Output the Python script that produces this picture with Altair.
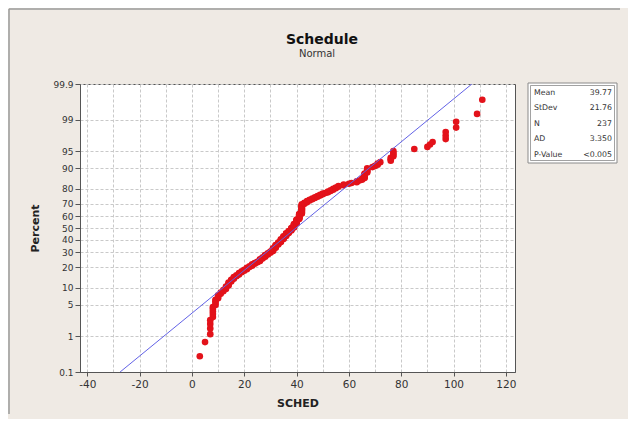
import altair as alt
import pandas as pd
from statistics import NormalDist

# ---- data ----
sched_values = [3, 5, 7, 8, 9, 10, 11, 12, 13, 14, 15, 16, 17, 18, 19, 20, 21, 22, 23, 24, 25,
                26, 27, 28, 29, 30, 31, 32, 33, 34, 35, 36, 37, 38, 39, 40, 41, 42, 43, 44, 45,
                46, 47, 48, 49, 50, 51, 52, 53, 54, 55, 56, 58, 60, 61, 63, 64, 65, 66, 67,
                69, 70, 71, 72, 76, 77, 85, 90, 91, 92, 97, 101, 109, 111]
sched_counts = [1, 1, 4, 5, 4, 3, 2, 2, 3, 4, 3, 3, 2, 3, 2, 2, 3, 2, 3, 2, 2,
                4, 3, 4, 3, 3, 6, 6, 5, 6, 6, 6, 5, 6, 8, 9, 11, 18, 3, 3, 2,
                2, 2, 2, 2, 2, 1, 2, 2, 2, 2, 2, 2, 1, 1, 2, 1, 2, 6, 5,
                1, 1, 2, 1, 3, 4, 1, 1, 1, 1, 3, 2, 1, 1]

stat_labels = ["Mean", "StDev", "N", "AD", "P-Value"]
stat_texts = ["39.77", "21.76", "237", "3.350", "<0.005"]
stat_mean = 39.77
stat_sd = 21.76

percent_ticks = [0.1, 1, 5, 10, 20, 30, 40, 50, 60, 70, 80, 90, 95, 99, 99.9]
percent_labels = ["0.1", "1", "5", "10", "20", "30", "40", "50", "60", "70", "80", "90", "95", "99", "99.9"]
x_ticks = list(range(-40, 121, 10))

# ---- build tables ----
nd = NormalDist()
xs = [v for v, c in zip(sched_values, sched_counts) for _ in range(c)]
n = len(xs)
points = pd.DataFrame({
    "SCHED": xs,
    "z": [nd.inv_cdf((i + 1 - 0.3) / (n + 0.4)) for i in range(n)],
})
z_ticks = [round(nd.inv_cdf(p / 100), 6) for p in percent_ticks]
z_lo, z_hi = z_ticks[0], z_ticks[-1]
fit = pd.DataFrame({"z": [z_lo, z_hi], "SCHED": [stat_mean + stat_sd * z_lo, stat_mean + stat_sd * z_hi]})

label_expr = " : ".join(
    f"abs(datum.value - ({z:.6f})) < 0.001 ? '{lab}'" for z, lab in zip(z_ticks, percent_labels)
) + " : ''"

FONT = "DejaVu Sans"
GRID = "#C9C9C9"
FRAME = "#555555"

xscale = alt.Scale(domain=[-42.8, 123.5], nice=False, zero=False)
yscale = alt.Scale(domain=[z_lo, z_hi], nice=False, zero=False)

xaxis = alt.Axis(
    values=x_ticks,
    labelExpr="datum.value % 20 == 0 ? '' + datum.value : ''",
    tickOpacity={"condition": {"test": "datum.value % 20 == 0", "value": 1}, "value": 0},
    tickSize=4, tickColor=FRAME, domainColor=FRAME,
    labelFont=FONT, labelFontSize=10.5, labelColor="#333333", labelPadding=3,
    labelFlush=False, labelOverlap=False,
    grid=True, gridColor=GRID, gridDash=[3, 2], gridWidth=1,
    title="SCHED", titleFont=FONT, titleFontSize=11, titleFontWeight="bold",
    titleColor="#222222", titlePadding=8,
)
yaxis = alt.Axis(
    values=z_ticks, labelExpr=label_expr,
    tickSize=5, tickColor=FRAME, domainColor=FRAME,
    labelFont=FONT, labelFontSize=9, labelColor="#333333", labelPadding=2,
    labelFlush=False, labelOverlap=False,
    grid=True, gridColor=GRID, gridDash=[3, 2], gridWidth=1,
    title="Percent", titleFont=FONT, titleFontSize=11, titleFontWeight="bold",
    titleColor="#222222", titlePadding=12,
)

pts = alt.Chart(points).mark_circle(size=44, color="#E3121A", opacity=1).encode(
    x=alt.X("SCHED:Q", scale=xscale, axis=xaxis),
    y=alt.Y("z:Q", scale=yscale, axis=yaxis),
)

line = alt.Chart(fit).mark_line(color="#6262E6", strokeWidth=1, clip=True).encode(
    x=alt.X("SCHED:Q", scale=xscale, axis=xaxis),
    y=alt.Y("z:Q", scale=yscale, axis=None),
)

one = pd.DataFrame({"a": [0]})
box_outer = alt.Chart(one).mark_rect(fill="white", stroke="#8A8A8A", strokeWidth=1).encode(
    x=alt.value(448), x2=alt.value(537), y=alt.value(-1), y2=alt.value(79)
)
box_inner = alt.Chart(one).mark_rect(fill="white", stroke="#8A8A8A", strokeWidth=0.8).encode(
    x=alt.value(450.5), x2=alt.value(534.5), y=alt.value(1.5), y2=alt.value(76.5)
)

stat_layers = []
for i, (lab, txt) in enumerate(zip(stat_labels, stat_texts)):
    row = pd.DataFrame({"label": [lab], "text": [txt]})
    ypos = 8.5 + i * 15.5
    stat_layers.append(alt.Chart(row).mark_text(
        align="left", baseline="middle", font=FONT, fontSize=7.8, color="#333333"
    ).encode(x=alt.value(454), y=alt.value(ypos), text="label:N"))
    stat_layers.append(alt.Chart(row).mark_text(
        align="right", baseline="middle", font=FONT, fontSize=7.8, color="#333333"
    ).encode(x=alt.value(532), y=alt.value(ypos), text="text:N"))

title_df = pd.DataFrame({"t": ["Schedule"], "s": ["Normal"]})
title1 = alt.Chart(title_df).mark_text(
    align="center", baseline="alphabetic", font=FONT, fontSize=14, fontWeight="bold", color="#111111"
).encode(x=alt.value(242), y=alt.value(-40), text="t:N")
title2 = alt.Chart(title_df).mark_text(
    align="center", baseline="alphabetic", font=FONT, fontSize=10, color="#333333"
).encode(x=alt.value(237), y=alt.value(-27.5), text="s:N")

edge_top = alt.Chart(one).mark_rule(color="#9A9A9A", strokeWidth=1.5).encode(
    x=alt.value(-71), x2=alt.value(540), y=alt.value(-75)
)
edge_left = alt.Chart(one).mark_rule(color="#9A9A9A", strokeWidth=1.5).encode(
    x=alt.value(-71), y=alt.value(-75), y2=alt.value(330)
)

chart = alt.layer(
    pts, line, box_outer, box_inner, *stat_layers, title1, title2, edge_top, edge_left
).resolve_scale(y="independent").properties(
    width=435, height=288,
    autosize=alt.AutoSizeParams(type="none"),
    padding={"left": 72, "top": 76, "right": 113, "bottom": 47},
).configure(
    background="#EFEAE4"
).configure_view(
    fill="white", stroke=FRAME, strokeWidth=1
)

chart.save("out.html", embed_options={"renderer": "svg", "actions": False})
